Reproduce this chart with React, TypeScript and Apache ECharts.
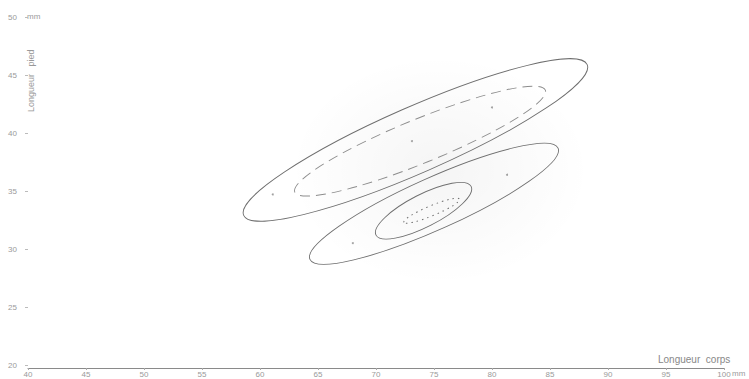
import React, { useEffect, useRef } from "react";
import * as echarts from "echarts";

// x axis: Longueur corps (mm), y axis: Longueur pied (mm)
const xTicks = [40, 45, 50, 55, 60, 65, 70, 75, 80, 85, 90, 95, 100];
const yTicks = [20, 25, 30, 35, 40, 45, 50];

// ellipses: centre, end of the major axis (right end), semi-minor half-width (mm of y)
const ellipseNames = ["E1", "E2", "E3", "E4", "E5"];
const centerX = [73.4, 73.8, 75.0, 74.1, 74.8];
const centerY = [39.4, 39.3, 33.9, 33.3, 33.3];
const tipX = [88.2, 84.6, 85.7, 78.2, 77.2];
const tipY = [45.9, 43.7, 38.7, 35.4, 34.3];
const semiMinor = [2.84, 1.9, 2.24, 1.4, 0.43];
const ellipseKind = [0, 1, 0, 0, 2]; // 0 solid, 1 broken, 2 dotted

// isolated marks
const markX = [61.1, 68.0, 73.1, 80.0, 81.3];
const markY = [34.7, 30.5, 39.3, 42.2, 36.4];

const FONT = "Liberation Sans";

export default function App() {
  const ref = useRef<HTMLDivElement>(null);
  useEffect(() => {
    if (!ref.current) return;
    const chart = echarts.init(ref.current, null, { renderer: "svg" });
    const ellipseData = ellipseNames.map((n, i) => ({
      name: n,
      value: [centerX[i], centerY[i], tipX[i], tipY[i], semiMinor[i], ellipseKind[i]],
    }));
    const option: any = {
      animation: false,
      backgroundColor: "#ffffff",
      grid: { left: 28, right: 25, top: 17, bottom: 14, containLabel: false },
      xAxis: {
        type: "value",
        min: 40,
        max: 100,
        interval: 5,
        offset: 3,
        axisLine: { show: true, lineStyle: { color: "#8a8a8a", width: 1 } },
        axisTick: { show: true, length: 2, lineStyle: { color: "#aaa" } },
        axisLabel: {
          margin: 2,
          fontSize: 8,
          color: "#9a9a9a",
          fontFamily: FONT,
          formatter: (v: number) => String(v),
        },
        splitLine: { show: false },
      },
      yAxis: {
        type: "value",
        min: 20,
        max: 50,
        interval: 5,
        axisLine: { show: false },
        axisTick: { show: true, length: 3, lineStyle: { color: "#bbb" } },
        axisLabel: { margin: 11, fontSize: 8, color: "#9a9a9a", fontFamily: FONT },
        splitLine: { show: false },
      },
      graphic: [
        {
          type: "ellipse",
          z: -10,
          shape: { cx: 440, cy: 170, rx: 150, ry: 115 },
          style: {
            fill: {
              type: "radial",
              x: 0.5,
              y: 0.5,
              r: 0.5,
              colorStops: [
                { offset: 0, color: "rgba(0,0,0,0.04)" },
                { offset: 1, color: "rgba(0,0,0,0)" },
              ],
            },
          },
          silent: true,
        },
        {
          type: "text",
          left: 27,
          top: 12,
          style: { text: "mm", fontSize: 8, fill: "#9a9a9a", fontFamily: FONT },
        },
        {
          type: "text",
          left: 732,
          top: 369,
          style: { text: "mm", fontSize: 8, fill: "#9a9a9a", fontFamily: FONT },
        },
        {
          type: "text",
          x: 658,
          y: 354,
          style: { text: "Longueur  corps", fontSize: 10, fill: "#888", fontFamily: FONT },
        },
        {
          type: "text",
          x: 26,
          y: 112,
          rotation: Math.PI / 2,
          style: { text: "Longueur   pied", fontSize: 9, fill: "#999", fontFamily: FONT },
        },
      ],
      series: [
        {
          type: "custom",
          coordinateSystem: "cartesian2d",
          data: ellipseData,
          encode: { x: [0, 2], y: [1, 3] },
          renderItem: (params: any, api: any) => {
            const c = api.coord([api.value(0), api.value(1)]);
            const t = api.coord([api.value(2), api.value(3)]);
            const bpx = api.size([0, api.value(4)])[1];
            const kind = api.value(5);
            const dx = t[0] - c[0];
            const dy = t[1] - c[1];
            const a = Math.sqrt(dx * dx + dy * dy);
            const rot = Math.atan2(-dy, dx);
            const style: any = {
              fill: "none",
              stroke: kind === 1 ? "#8c8c8c" : "#6e6e6e",
              lineWidth: kind === 2 ? 1 : 0.9,
            };
            if (kind === 1) style.lineDash = [10, 6];
            if (kind === 2) style.lineDash = [1.5, 4];
            return {
              type: "ellipse",
              x: c[0],
              y: c[1],
              rotation: rot,
              shape: { cx: 0, cy: 0, rx: a, ry: bpx },
              style,
            };
          },
          z: 3,
        },
        {
          type: "scatter",
          data: markX.map((x, i) => [x, markY[i]]),
          symbol: "circle",
          symbolSize: 2,
          itemStyle: { color: "#888" },
          z: 4,
        },
      ],
    };
    chart.setOption(option);
    return () => chart.dispose();
  }, []);
  return (
    <div
      ref={ref}
      style={{ position: "absolute", left: 0, top: 0, width: 749, height: 379 }}
    />
  );
}
